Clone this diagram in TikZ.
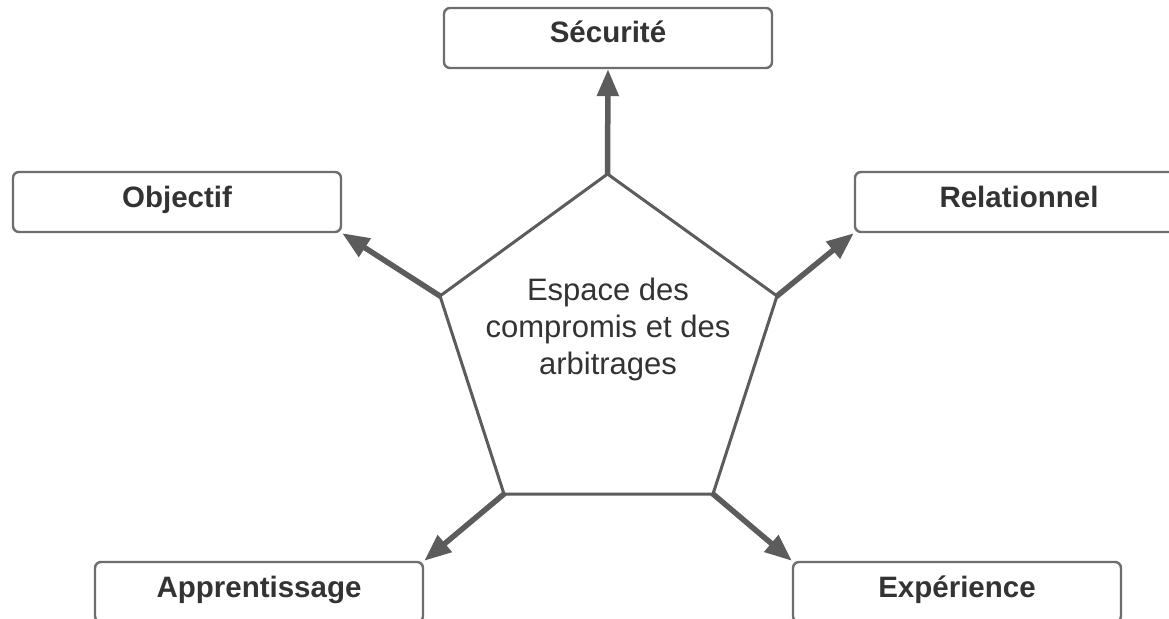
\documentclass[tikz,border=0pt]{standalone}
\usepackage{fontspec}
\setmainfont{Liberation Sans}
\usetikzlibrary{arrows.meta}
\definecolor{edgegray}{HTML}{5C5C5C}
\definecolor{boxgray}{HTML}{6E6E6E}
\definecolor{inkgray}{HTML}{333333}
\tikzset{
  facetbox/.style={draw=boxgray, line width=2.4pt, rounded corners=6pt,
    fill=white, minimum width=328pt, minimum height=60pt, inner sep=0pt,
    text height=22pt, text depth=12pt, text=inkgray,
    font=\fontsize{29.5}{33}\selectfont\bfseries},
  pentaedge/.style={draw=edgegray, line width=3pt, line join=miter},
  pull/.style={draw=edgegray, line width=5.5pt,
    -{Triangle[length=27pt,width=21pt]}, shorten <=-1pt},
  centretext/.style={align=center, text=inkgray, inner sep=0pt,
    font=\fontsize{31}{37}\selectfont}
}
\begin{document}
\begin{tikzpicture}[x=1pt,y=-1pt]
  \useasboundingbox (0,0) rectangle (1169,618);
  \clip (0,0) rectangle (1169,618);
  \fill[white] (0,0) rectangle (1169,618);

  % outer boxes
  \node[facetbox] (securite)  at (608,38)  {Sécurité};
  \node[facetbox] (objectif)  at (177,202) {Objectif};
  \node[facetbox] (relation)  at (1019,202) {Relationnel};
  \node[facetbox] (apprent)   at (259,592) {Apprentissage};
  \node[facetbox] (experience) at (957,592) {Expérience};

  % pentagon corners
  \coordinate (ptop) at (607.5,174);
  \coordinate (pleft) at (440,296);
  \coordinate (pright) at (777,296);
  \coordinate (pbl) at (504,494);
  \coordinate (pbr) at (713,494);

  \draw[pentaedge] (ptop) -- (pright) -- (pbr) -- (pbl) -- (pleft) -- cycle;

  \node[centretext] (espace) at (608,329)
    {Espace des\\compromis et des\\arbitrages};

  % arrows from the pentagon corners to the boxes
  \draw[pull] (ptop) -- (securite.south);
  \draw[pull] (pleft) -- (objectif.south east);
  \draw[pull] (pright) -- (relation.south west);
  \draw[pull] (pbl) -- (apprent.north east);
  \draw[pull] (pbr) -- (experience.north west);
\end{tikzpicture}
\end{document}
